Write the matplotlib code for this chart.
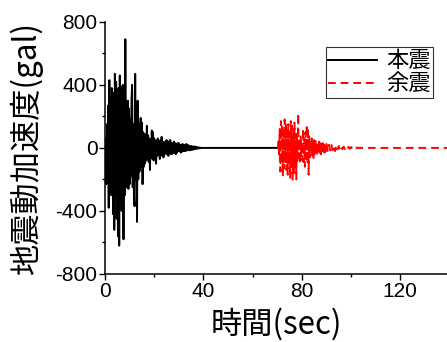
import numpy as np
import matplotlib
matplotlib.use("Agg")
import matplotlib.pyplot as plt
from matplotlib.ticker import MultipleLocator

# 本震 (main shock), sampled every 0.25 s from 0 to 40 s
main_dt = 0.25
main_acc = [
    0, 60, -230, 150,
    -120, 270, -380, 430,
    -250, 320, -300, 380,
    250, -420, 350, -520,
    470, -300, 420, -450,
    300, -560, 380, -620,
    460, -350, 390, -400,
    300, 400, -580, 350,
    -300, 690, -250, 200,
    -200, 300, -260, 250,
    -230, 180, -180, 300,
    400, -250, 150, -300,
    -370, 470, -200, 250,
    -470, 300, -200, 150,
    -150, 130, 190, -120,
    160, -230, 100, -120,
    90, -100, 70, -80,
    140, -60, 80, -90,
    60, -140, 50, -60,
    110, -70, 100, -80,
    60, -60, 40, -100,
    50, -50, 60, -40,
    40, -70, 50, -40,
    70, -50, 40, -60,
    30, -40, 40, -30,
    50, -40, 30, -50,
    40, -30, 50, -40,
    30, -40, 30, -30,
    40, -30, 30, -40,
    20, -30, 30, -20,
    30, -20, 20, -30,
    20, -25, 25, -20,
    20, -20, 15, -20,
    25, -15, 20, -15,
    15, -15, 10, -15,
    12, -10, 10, -12,
    8, -8, 10, -6,
    6, -5, 5, -4,
    3, -3, 2, -2,
    1, -1, 0, 0,
]
main_tail_t = [40, 70.4]
main_tail_acc = [0, 0]

# 余震 (aftershock), 0.25 s steps from 70 to 90 s, then 0.5 s steps to 105 s
after_start = 70.0
after_acc_fine = [
    0, 0, 40, -60,
    120, -150, 170, -100,
    150, -180, 100, -130,
    180, -90, 160, -140,
    130, -170, 150, -110,
    100, -190, 170, -120,
    140, -200, 120, -160,
    160, -130, 90, -200,
    100, -80, 220, -60,
    60, -100, 80, -50,
    40, -80, 120, -90,
    60, -120, 100, -60,
    150, -100, 130, -170,
    80, -60, 50, -40,
    60, -50, 40, -70,
    50, -40, 60, -30,
    30, -50, 40, -30,
    40, -30, 30, -40,
    30, -20, 30, -30,
    20, -30, 25, -20,
]
after_acc_coarse = [
    25, -20, 20, -15, 20, -15,
    15, -20, 15, -10, 12, -10,
    10, -8, 8, -8, 6, -6,
    6, -5, 5, -4, 4, -3,
    3, -2, 2, -1, 1, 0,
]
after_tail_t = [105, 140]
after_tail_acc = [0, 0]

t_main = np.concatenate([np.arange(len(main_acc)) * main_dt, main_tail_t])
a_main = np.concatenate([main_acc, main_tail_acc])

t_fine = after_start + np.arange(len(after_acc_fine)) * 0.25
t_coarse = 90.0 + np.arange(len(after_acc_coarse)) * 0.5
t_after = np.concatenate([t_fine, t_coarse, after_tail_t])
a_after = np.concatenate([after_acc_fine, after_acc_coarse, after_tail_acc])

jp = ["Noto Sans CJK JP", "DejaVu Sans"]
plt.rcParams["font.family"] = ["Liberation Sans", "Noto Sans CJK JP", "DejaVu Sans"]
plt.rcParams["axes.unicode_minus"] = False

fig = plt.figure(figsize=(4.47, 3.42), dpi=100)
ax = fig.add_axes([0.235, 0.199, 0.765, 0.737])

ax.plot(t_main, a_main, color="black", lw=1.4, label="本震")
ax.plot(t_after, a_after, color="red", lw=1.4, ls="--", dashes=(4, 2.5), label="余震")

ax.set_xlim(0, 139)
ax.set_ylim(-800, 800)
ax.xaxis.set_major_locator(MultipleLocator(40))
ax.xaxis.set_minor_locator(MultipleLocator(20))
ax.yaxis.set_major_locator(MultipleLocator(400))
ax.yaxis.set_minor_locator(MultipleLocator(200))
ax.tick_params(which="major", direction="out", length=4.5, width=1.0, labelsize=15, pad=1)
ax.tick_params(which="minor", direction="out", length=2.5, width=1.0)

for s in ["top", "right"]:
    ax.spines[s].set_visible(False)
for s in ["left", "bottom"]:
    ax.spines[s].set_linewidth(1.1)

ax.set_xlabel("時間(sec)", fontsize=22.5, family=jp, labelpad=5)
ax.set_ylabel("地震動加速度(gal)", fontsize=22.5, family=jp, labelpad=9)

leg = ax.legend(loc="upper right", bbox_to_anchor=(0.959, 0.900), prop={"family": jp, "size": 16},
                frameon=True, fancybox=False, edgecolor="black", handlelength=2.2,
                borderpad=0.1, labelspacing=0.0, handletextpad=0.4, borderaxespad=0)
leg.get_frame().set_linewidth(0.8)

fig.savefig("out.png", dpi=100)
